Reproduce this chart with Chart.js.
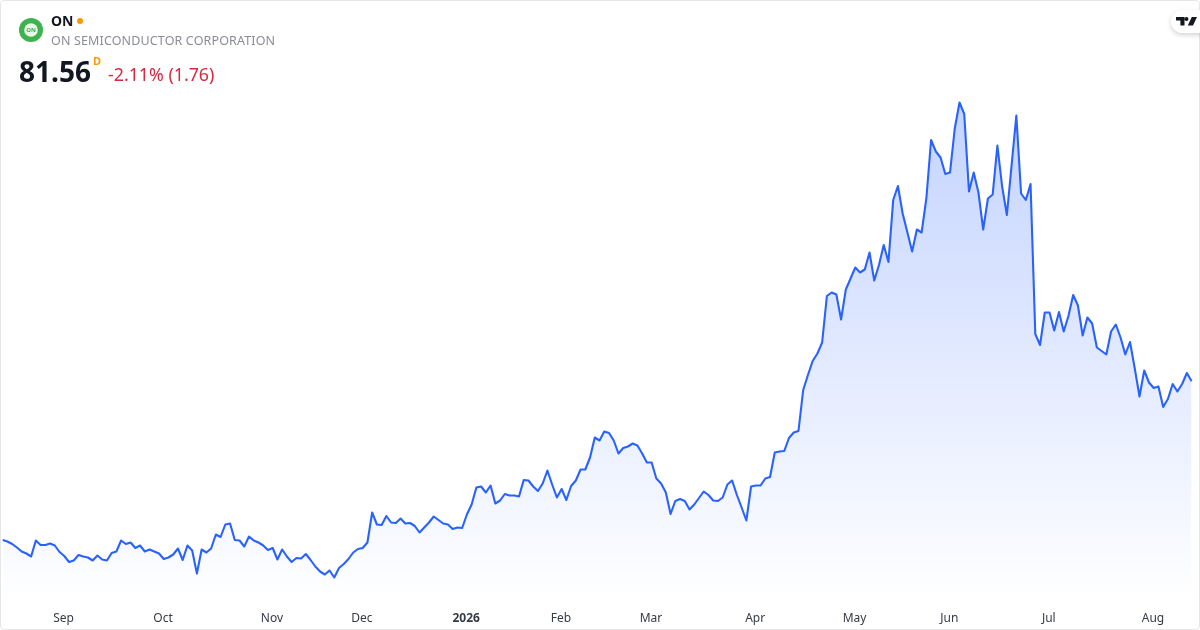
<!DOCTYPE html>
<html>
<head>
<meta charset="utf-8">
<script src="https://cdn.jsdelivr.net/npm/chart.js@4"></script>
<style>
html,body{margin:0;padding:0;background:#fff;width:1200px;height:630px;overflow:hidden;font-family:"Noto Sans",sans-serif}
#frame{position:absolute;left:0;top:0;width:1198px;height:628px;border:1px solid #e6e6e6;border-radius:4px;overflow:hidden}
#wrap{position:absolute;left:0;top:0;width:1200px;height:630px}
.t{position:absolute;white-space:nowrap}
#logo{position:absolute;left:19px;top:18px}
#tv{position:absolute;left:1171px;top:10px;width:40px;height:23px;background:#fff;border-radius:12px;box-shadow:0 2px 5px rgba(0,0,0,.18)}
#clip{position:absolute;left:1140px;top:0;width:60px;height:50px;overflow:hidden}
#clip #tv{left:31px}
</style>
</head>
<body>
<div id="wrap"><canvas id="c" width="1200" height="630" style="width:1200px;height:630px;display:block"></canvas></div>
<div id="frame"></div>
<svg id="logo" width="24" height="24" viewBox="0 0 24 24"><circle cx="12" cy="12" r="12" fill="#3fb24f"/><circle cx="12" cy="12" r="6.8" fill="#e9f6ea"/><text x="12" y="14" text-anchor="middle" font-family="Noto Sans" font-size="6" font-weight="700" fill="#3fb24f">ON</text></svg>
<div class="t" style="left:51px;top:12px;font-size:14px;font-weight:700;line-height:18px;color:#131722">ON</div>
<div class="t" style="left:77px;top:18px;width:6px;height:6px;border-radius:50%;background:#ff9800"></div>
<div class="t" style="left:51px;top:32px;font-size:12.5px;letter-spacing:.14px;line-height:18px;color:#8a8d96">ON SEMICONDUCTOR CORPORATION</div>
<div class="t" style="left:19px;top:52px;font-size:28px;font-weight:700;line-height:38px;color:#131722">81.56</div>
<div class="t" style="left:93px;top:54px;font-size:11px;font-weight:700;line-height:14px;color:#ff9800">D</div>
<div class="t" style="left:108px;top:62px;font-size:17.8px;line-height:25px;color:#d9283f">-2.11% (1.76)</div>
<div id="clip"><div id="tv"><svg style="position:absolute;left:5px;top:7px" width="21" height="9" viewBox="0 0 21 9"><path d="M0 0h8.5v8.6H4.4V3.6H0zM12.5 2a2 2 0 1 1-4 0 2 2 0 0 1 4 0zM15.8 0H21l-4 8.6h-5.2z" fill="#131722"/></svg></div></div>
<script>
const monthLabels = ["Sep","Oct","Nov","Dec","2026","Feb","Mar","Apr","May","Jun","Jul","Aug"];
const monthIndices = [13,34,57,76,98,118,137,159,180,200,221,243];
const closes = [
49.8,49.5,49.0,48.3,47.5,47.1,46.5,49.7,48.8,48.8,49.1,48.7,47.4,46.6,45.4,45.7,46.8,46.5,46.3,45.7,46.7,45.9,45.7,47.2,47.5,49.7,49.0,49.3,48.2,48.7,47.5,47.9,47.5,47.1,46.0,46.3,46.9,48.1,45.8,48.7,47.7,43.1,47.9,47.3,48.1,50.9,50.4,52.9,53.1,49.8,49.7,48.5,50.5,49.7,49.3,48.7,47.8,48.2,45.9,47.9,46.5,45.4,46.2,46.1,47.0,45.8,44.5,43.5,42.9,43.7,42.3,44.2,45.0,46.0,47.3,48.0,48.2,49.3,55.3,52.9,52.8,54.6,53.3,53.2,
54.1,53.1,53.2,52.6,51.3,52.3,53.3,54.5,53.8,53.1,52.9,52.0,52.3,52.2,54.9,56.9,60.3,60.5,59.3,60.7,57.1,57.7,59.0,58.7,58.7,58.5,61.8,61.7,60.5,59.6,61.1,63.7,60.9,58.3,60.0,57.8,60.6,61.7,63.9,63.9,66.3,70.3,69.7,71.5,71.2,69.7,67.1,68.2,68.5,69.1,68.7,67.1,65.3,65.3,62.1,61.1,59.3,55.0,57.6,58.0,57.6,55.9,56.9,58.2,59.5,58.8,57.7,57.6,58.3,60.9,61.7,58.8,56.3,53.7,60.5,60.7,60.7,62.1,62.4,67.3,67.5,67.6,70.2,71.3,
71.6,79.8,82.8,85.6,87.1,89.3,98.6,99.3,98.9,93.9,99.9,102.1,104.3,103.3,103.9,107.3,101.7,104.8,108.8,105.4,117.8,120.6,115.1,111.3,107.5,111.9,111.3,118.1,129.8,127.5,126.3,123.0,123.3,132.1,137.3,135.0,119.5,123.3,119.3,111.9,118.1,118.9,128.7,120.5,114.8,124.8,134.7,119.1,117.8,121.0,91.0,88.8,95.3,95.3,91.7,95.4,91.5,94.6,98.8,96.7,90.7,94.3,93.1,88.3,87.6,86.9,91.5,92.9,90.3,86.9,89.4,84.1,78.5,83.7,81.3,80.2,80.5,76.4,78.0,81.0,79.5,81.0,83.2,81.56];
const categories = closes.map((_, i) => { const k = monthIndices.indexOf(i); return k >= 0 ? monthLabels[k] : ""; });

new Chart(document.getElementById("c"), {
  type: "line",
  data: {
    labels: categories,
    datasets: [{
      data: closes,
      borderColor: "#2962ff",
      borderWidth: 2.1,
      pointRadius: 0,
      tension: 0,
      borderJoinStyle: "round",
      fill: "start",
      backgroundColor(ctx) {
        const a = ctx.chart.chartArea;
        if (!a) return "rgba(41,98,255,0.2)";
        const g = ctx.chart.ctx.createLinearGradient(0, 100, 0, a.bottom);
        g.addColorStop(0, "rgba(41,98,255,0.28)");
        g.addColorStop(1, "rgba(41,98,255,0)");
        return g;
      }
    }]
  },
  options: {
    responsive: false,
    animation: false,
    devicePixelRatio: 1,
    layout: { padding: { left: 2.7, right: 8.4, top: 89, bottom: 0 } },
    plugins: { legend: { display: false }, tooltip: { enabled: false } },
    scales: {
      y: { display: false, min: 37.2, max: 140 },
      x: {
        offset: false,
        afterFit(s) { s.height = 27; },
        grid: { display: false, drawTicks: false },
        border: { display: false },
        ticks: {
          autoSkip: false,
          maxRotation: 0,
          minRotation: 0,
          padding: 8,
          labelOffset: -0.7,
          color: "#363a45",
          font(ctx) { return { family: "Noto Sans", size: 12, weight: ctx.tick && ctx.tick.label === "2026" ? "700" : "400" }; },
          callback(v, i) { return categories[i] || null; }
        }
      }
    }
  }
});
</script>
</body>
</html>
